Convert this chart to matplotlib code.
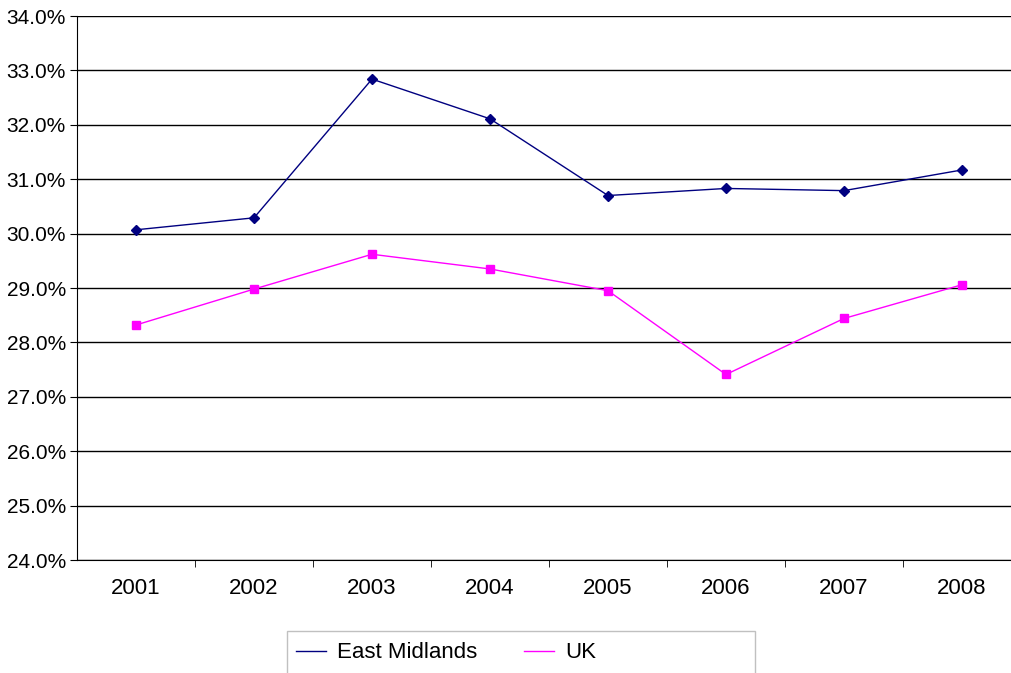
import matplotlib.pyplot as plt
from matplotlib.patches import Rectangle
from matplotlib.ticker import FuncFormatter

plt.rcParams['font.family'] = ['Liberation Sans', 'DejaVu Sans']

years = ['2001', '2002', '2003', '2004', '2005', '2006', '2007', '2008']
east_midlands = [30.07, 30.29, 32.84, 32.11, 30.70, 30.83, 30.79, 31.17]
uk = [28.32, 28.98, 29.62, 29.35, 28.95, 27.41, 28.44, 29.06]

fig = plt.figure(figsize=(10.12, 6.73), dpi=100)
# plot area runs a little past the right edge, as in the original
ax = fig.add_axes([77 / 1012, 1 - 560 / 673, 944 / 1012, 544 / 673])

x = list(range(len(years)))
ax.plot(x, east_midlands, color='#000080', lw=1, marker='D', ms=5, label='East Midlands')
ax.plot(x, uk, color='#ff00ff', lw=1, marker='s', ms=6, label='UK')

ax.set_ylim(24, 34)
ax.set_yticks(range(24, 35))
ax.yaxis.set_major_formatter(FuncFormatter(lambda v, p: '%.1f%%' % v))
ax.grid(axis='y', color='black', lw=1)
ax.set_axisbelow(True)

ax.set_xlim(-0.5, len(years) - 0.5)
ax.set_xticks(x)
ax.set_xticklabels(years)
ax.set_xticks([i + 0.5 for i in range(len(years) - 1)], minor=True)
ax.tick_params(axis='x', which='major', length=0, pad=13, labelsize=16)
ax.tick_params(axis='x', which='minor', length=5, direction='out')
ax.tick_params(axis='y', length=5, direction='out', labelsize=15, pad=3)

for s in ['top', 'right']:
    ax.spines[s].set_visible(False)
ax.spines['left'].set_color('black')
ax.spines['bottom'].set_color('black')

# legend frame: x 287..755, top at y=631, runs off the bottom
fig.patches.append(Rectangle((287 / 1012, -0.05), 468 / 1012, 0.05 + 42 / 673,
                             transform=fig.transFigure, fill=False,
                             edgecolor='#c0c0c0', lw=1))
leg = fig.legend(loc='center left', bbox_to_anchor=(296 / 1012, 1 - 653 / 673),
                 ncol=2, frameon=False, fontsize=16,
                 handlelength=1.35, handletextpad=0.5, columnspacing=2.1,
                 borderpad=0, borderaxespad=0)
for h in leg.legend_handles:
    h.set_marker('')

fig.savefig('out.png', dpi=100)
